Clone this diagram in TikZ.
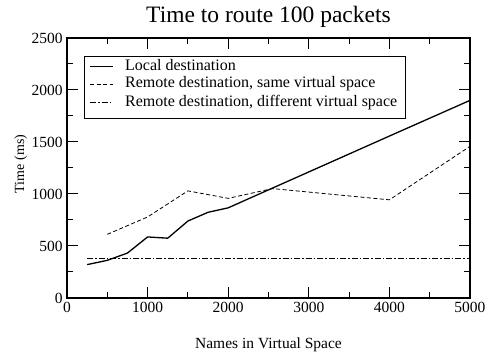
\documentclass[tikz,border=0pt]{standalone}
\usepackage{fontspec}
\setmainfont{Liberation Serif}
\usetikzlibrary{positioning}

\tikzset{
  lab/.style={inner sep=0pt, font=\fontsize{15.5}{18}\selectfont},
  local/.style={line width=1.3pt, line join=round},
  samevs/.style={line width=0.8pt, dash pattern=on 4pt off 2.5pt},
  diffvs/.style={line width=0.8pt, dash pattern=on 6pt off 2pt on 1.5pt off 2pt}
}

\begin{document}
\begin{tikzpicture}[x=1pt,y=1pt]
  \useasboundingbox (0,0) rectangle (490,355);
  \node[inner sep=0pt, anchor=base, font=\fontsize{23.5}{28}\selectfont] (title) at (268.5,332.3) {Time to route 100 packets};
  \node[lab, anchor=base] (xlab) at (268.5,6.7) {Names in Virtual Space};
  \node[lab, rotate=90, font=\fontsize{14}{17}\selectfont] (ylab) at (20.8,191) {Time (ms)};

  \begin{scope}[shift={(67,57)}, x=0.0806pt, y=0.104pt]
    \draw[line width=1.3pt] (0,0) rectangle (5000,2500);
    \foreach \i in {1000,2000,3000,4000} {
      \draw[line width=1pt] (\i,0) -- ++(0pt,11pt);
      \draw[line width=1pt] (\i,2500) -- ++(0pt,-11pt);
    }
    \foreach \i in {500,1500,2500,3500,4500} {
      \draw[line width=1pt] (\i,0) -- ++(0pt,6pt);
      \draw[line width=1pt] (\i,2500) -- ++(0pt,-6pt);
    }
    \foreach \j in {500,1000,1500,2000} {
      \draw[line width=1pt] (0,\j) -- ++(11pt,0pt);
      \draw[line width=1pt] (5000,\j) -- ++(-11pt,0pt);
    }
    \foreach \j in {250,750,1250,1750,2250} {
      \draw[line width=1pt] (0,\j) -- ++(6pt,0pt);
      \draw[line width=1pt] (5000,\j) -- ++(-6pt,0pt);
    }
    \foreach \i in {0,1000,2000,3000,4000,5000}
      \node[lab, anchor=base] (x\i) at ([yshift=-14.7pt]\i,0) {\i};
    \foreach \j in {0,500,1000,1500,2000,2500}
      \node[lab, anchor=east] (y\j) at ([xshift=-4.3pt]0,\j) {\j};

    \draw[local] (250,321) -- (500,362) -- (750,432) -- (1000,587) -- (1250,575)
      -- (1500,740) -- (1750,824) -- (2000,867) -- (3000,1212) -- (4000,1557) -- (5000,1900);
    \draw[samevs] (500,612) -- (1000,779) -- (1500,1030) -- (2000,958) -- (2550,1052)
      -- (4000,944) -- (5000,1458);
    \draw[diffvs] (250,382) -- (5000,382);
  \end{scope}

  \draw[line width=0.9pt] (84,237) rectangle (405,299);
  \draw[local] (90,288.3) -- (112.5,288.3);
  \draw[samevs] (90,271) -- (112.5,271);
  \draw[diffvs] (90,252.7) -- (112.5,252.7);
  \node[lab, anchor=base west, font=\fontsize{16}{19}\selectfont] (leglocal) at (125,284.3) {Local destination};
  \node[lab, anchor=base west, font=\fontsize{16}{19}\selectfont] (legsame) at (125,267) {Remote destination, same virtual space};
  \node[lab, anchor=base west, font=\fontsize{16}{19}\selectfont] (legdiff) at (125,248.7) {Remote destination, different virtual space};
\end{tikzpicture}
\end{document}
